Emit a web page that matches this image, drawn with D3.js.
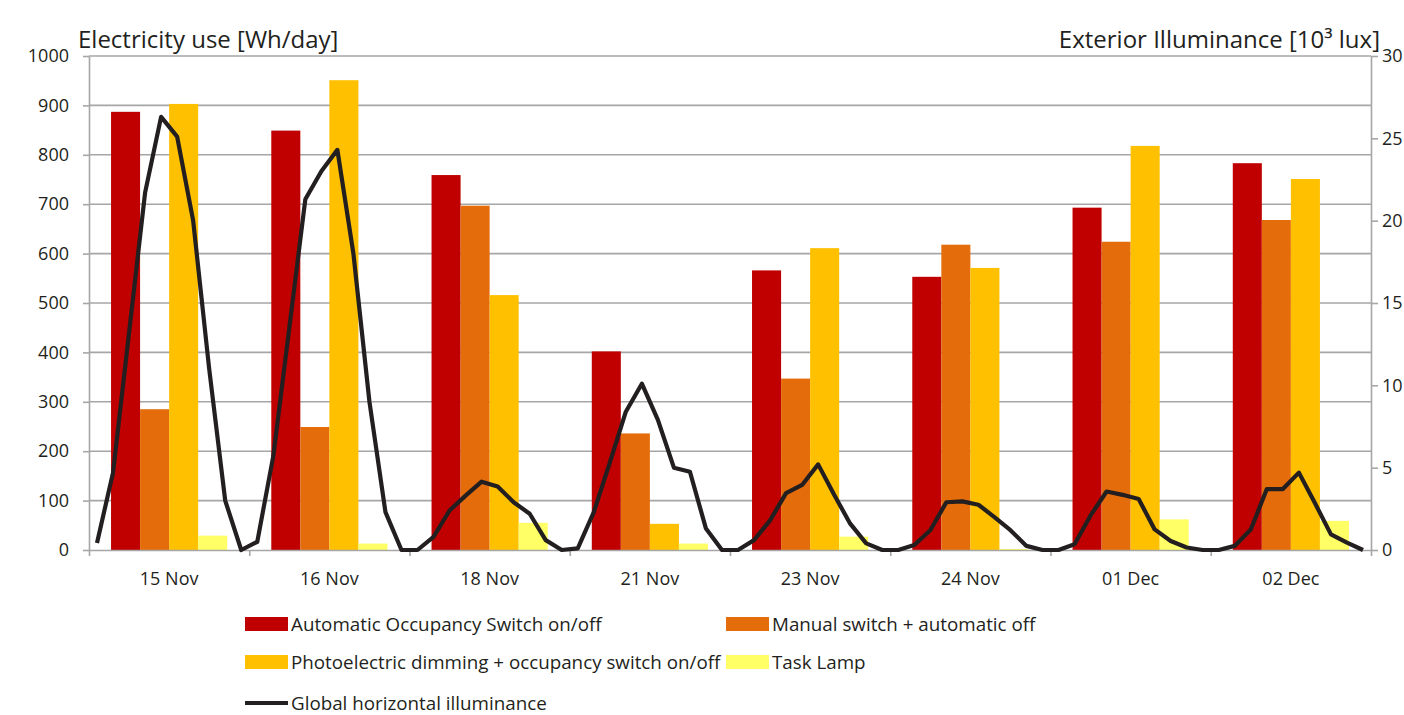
<!DOCTYPE html>
<html><head><meta charset="utf-8">
<script src="https://cdn.jsdelivr.net/npm/d3@7"></script>
<style>body{margin:0;background:#fff}svg{display:block;font-family:"Open Sans",sans-serif}</style>
</head><body><svg id="chart" width="1404" height="715"></svg>
<script>
const categories = ["15 Nov","16 Nov","18 Nov","21 Nov","23 Nov","24 Nov","01 Dec","02 Dec"];
const seriesNames = ["Automatic Occupancy Switch on/off","Manual switch + automatic off","Photoelectric dimming + occupancy switch on/off","Task Lamp"];
const automaticOccupancy = [887,849,759,402,566,553,693,783];
const manualSwitch = [285,249,697,236,347,618,624,668];
const photoelectricDimming = [903,951,516,53,611,571,818,751];
const taskLamp = [29,13,55,13,27,2,62,59];
const lineName = "Global horizontal illuminance";
const illuminance = [
  0.43,4.7,13.2,21.7,26.3,25.1,20.0,11.0,3.0,0.0,
  0.5,5.7,13.5,21.3,23.0,24.3,18.0,9.0,2.3,0.0,
  0.0,0.8,2.4,3.3,4.15,3.85,2.9,2.2,0.6,0.0,
  0.1,2.3,5.3,8.4,10.1,7.9,5.0,4.75,1.3,0.0,
  0.0,0.6,1.8,3.45,3.95,5.2,3.35,1.6,0.4,0.0,
  0.0,0.3,1.2,2.9,2.95,2.75,2.0,1.2,0.25,0.0,
  0.0,0.35,2.1,3.55,3.35,3.1,1.25,0.55,0.15,0.0,
  0.0,0.25,1.25,3.7,3.7,4.7,2.85,0.95,0.45,0.0
];
const leftTicks = [0,100,200,300,400,500,600,700,800,900,1000];
const rightTicks = [0,5,10,15,20,25,30];
const leftTitle = "Electricity use [Wh/day]";
const rightTitle = "Exterior Illuminance [10³ lux]";
const colors = ["#C00000","#E46C0A","#FFC000","#FFFF66"];

const series = [automaticOccupancy, manualSwitch, photoelectricDimming, taskLamp];
const svg = d3.select("#chart");
const L = 89, R = 1371, T = 56, B = 550;
const textColor = "#231f20", gridColor = "#a6a6a6";

const y = d3.scaleLinear().domain([0,1000]).range([B,T]);
const yR = d3.scaleLinear().domain([0,30]).range([B,T]);
const x0 = d3.scaleBand().domain(categories).range([L,R]).paddingInner(0.275).paddingOuter(0.1375);
const x1 = d3.scaleBand().domain(d3.range(series.length)).range([0,x0.bandwidth()]);
const xLine = d3.scaleBand().domain(d3.range(illuminance.length)).range([L,R]);
const xEdge = d3.scaleLinear().domain([0,categories.length]).range([L,R]);

// gridlines
svg.append("g").selectAll("line").data(leftTicks.filter(d=>d>0)).join("line")
  .attr("x1",L).attr("x2",R).attr("y1",d=>y(d)).attr("y2",d=>y(d))
  .attr("stroke",gridColor).attr("stroke-width",1.6);

// bars
const groups = svg.append("g").selectAll("g").data(categories).join("g")
  .attr("transform",c=>`translate(${x0(c)},0)`);
groups.selectAll("rect").data((c,i)=>series.map((s,k)=>({k,v:s[i]}))).join("rect")
  .attr("x",d=>x1(d.k)).attr("width",x1.bandwidth())
  .attr("y",d=>y(d.v)).attr("height",d=>B-y(d.v))
  .attr("fill",d=>colors[d.k]);

// axes
function styleAxis(g){
  g.selectAll("path").attr("stroke",gridColor).attr("stroke-width",1.6);
  g.selectAll("line").attr("stroke",gridColor).attr("stroke-width",1.6);
  g.selectAll("text").attr("fill",textColor).style("font-size","18px").style("font-family",'"Open Sans",sans-serif');
}
svg.append("g").attr("transform",`translate(${L},0)`)
  .call(d3.axisLeft(y).tickValues(leftTicks).tickFormat(d3.format("d")).tickSize(6).tickSizeOuter(0).tickPadding(14))
  .call(styleAxis);
svg.append("g").attr("transform",`translate(${R},0)`)
  .call(d3.axisRight(yR).tickValues(rightTicks).tickFormat(d3.format("d")).tickSize(7).tickSizeOuter(0).tickPadding(4))
  .call(styleAxis);
svg.append("g").attr("transform",`translate(0,${B})`)
  .call(d3.axisBottom(xEdge).tickValues(d3.range(categories.length+1)).tickFormat("").tickSize(6).tickSizeOuter(0))
  .call(styleAxis);
svg.append("g").attr("transform",`translate(0,${B})`)
  .call(d3.axisBottom(x0).tickSize(0).tickPadding(22))
  .call(styleAxis)
  .call(g=>g.select(".domain").remove());

// line
svg.append("path").datum(illuminance)
  .attr("fill","none").attr("stroke","#231f20").attr("stroke-width",4.2).attr("stroke-linejoin","round")
  .attr("d",d3.line().x((d,i)=>xLine(i)+xLine.bandwidth()/2).y(d=>yR(d)));

// titles
svg.append("text").attr("x",78).attr("y",48).attr("fill",textColor).style("font-size","24px").text(leftTitle);
svg.append("text").attr("x",1380).attr("y",48).attr("text-anchor","end").attr("fill",textColor).style("font-size","24px").text(rightTitle);

// legend
const legendItems = [
  {name:seriesNames[0],color:colors[0],x:245,y:624},
  {name:seriesNames[1],color:colors[1],x:726,y:624},
  {name:seriesNames[2],color:colors[2],x:245,y:662},
  {name:seriesNames[3],color:colors[3],x:726,y:662}
];
const lg = svg.append("g");
legendItems.forEach(it=>{
  lg.append("rect").attr("x",it.x).attr("y",it.y-7).attr("width",43).attr("height",14).attr("fill",it.color);
  lg.append("text").attr("x",it.x+46).attr("y",it.y).attr("dy","0.35em").attr("fill",textColor).style("font-size","18.8px").text(it.name);
});
lg.append("line").attr("x1",245).attr("x2",288).attr("y1",703).attr("y2",703).attr("stroke","#231f20").attr("stroke-width",4);
lg.append("text").attr("x",291).attr("y",703).attr("dy","0.35em").attr("fill",textColor).style("font-size","18.8px").text(lineName);
</script></body></html>
